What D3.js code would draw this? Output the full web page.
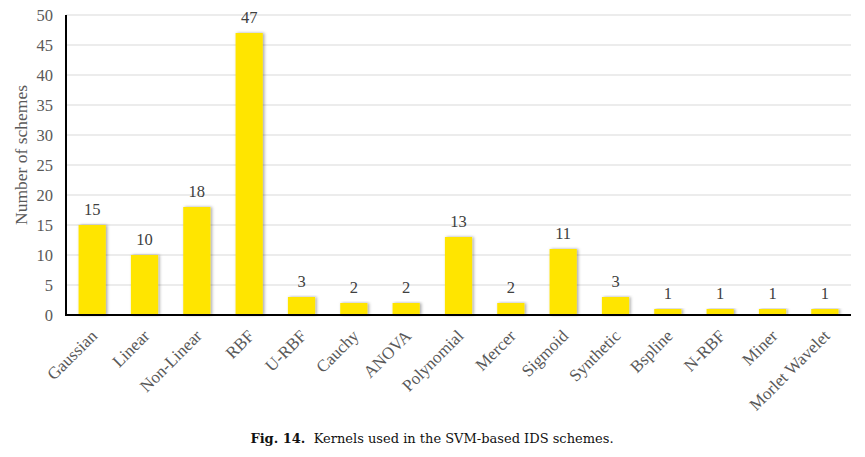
<!DOCTYPE html>
<html><head><meta charset="utf-8">
<script src="https://cdn.jsdelivr.net/npm/d3@7"></script>
<style>body{margin:0;background:#fff}</style>
</head><body>
<svg id="c" width="865" height="457"></svg>
<script>
const categories = ["Gaussian","Linear","Non-Linear","RBF","U-RBF","Cauchy","ANOVA","Polynomial","Mercer","Sigmoid","Synthetic","Bspline","N-RBF","Miner","Morlet Wavelet"];
const values = [15,10,18,47,3,2,2,13,2,11,3,1,1,1,1];
const yTicks = [0,5,10,15,20,25,30,35,40,45,50];

const svg = d3.select("#c");
const m = {l:66, r:14, t:15, b:142};
const W = 865, H = 457;
const x = d3.scaleBand().domain(categories).range([m.l, W - m.r]).paddingInner(0.48).paddingOuter(0.24);
const y = d3.scaleLinear().domain([0,50]).range([H - m.b, m.t]);
const serif = "'Liberation Serif', 'Times New Roman', serif";

const defs = svg.append("defs");
const f = defs.append("filter").attr("id","sh").attr("x","-30%").attr("y","-10%").attr("width","160%").attr("height","120%");
f.append("feDropShadow").attr("dx",1.5).attr("dy",0).attr("stdDeviation",1.5).attr("flood-color","#000").attr("flood-opacity",0.35);

// gridlines
svg.append("g").selectAll("line").data(yTicks.slice(1)).join("line")
  .attr("x1", m.l).attr("x2", W - m.r)
  .attr("y1", d => y(d)).attr("y2", d => y(d))
  .attr("stroke", "#d9d9d9").attr("stroke-width", 1.2);

// y axis
const ya = svg.append("g").attr("transform", `translate(${m.l},0)`)
  .call(d3.axisLeft(y).tickValues(yTicks).tickSize(0).tickPadding(13));
ya.select(".domain").remove();
ya.selectAll("text").attr("font-family", serif).attr("font-size", 16.5).attr("fill", "#595959");

// bars
svg.append("g").selectAll("rect").data(values).join("rect")
  .attr("x", (d,i) => x(categories[i]))
  .attr("y", d => y(d))
  .attr("width", x.bandwidth())
  .attr("height", d => y(0) - y(d))
  .attr("fill", "#ffe500")
  .attr("filter", "url(#sh)");

// value labels
svg.append("g").selectAll("text").data(values).join("text")
  .attr("x", (d,i) => x(categories[i]) + x.bandwidth()/2)
  .attr("y", d => y(d) - 10)
  .attr("text-anchor", "middle")
  .attr("font-family", serif).attr("font-size", 16.5).attr("fill", "#404040")
  .text(d => d);

// axis lines
svg.append("line").attr("x1", m.l).attr("x2", m.l).attr("y1", y(50)).attr("y2", y(0)+1)
  .attr("stroke", "#000").attr("stroke-width", 2);
svg.append("line").attr("x1", m.l-1).attr("x2", W - m.r).attr("y1", y(0)).attr("y2", y(0))
  .attr("stroke", "#000").attr("stroke-width", 2);

// x axis labels
const xa = svg.append("g").attr("transform", `translate(0,${y(0)})`)
  .call(d3.axisBottom(x).tickSize(0).tickPadding(0));
xa.select(".domain").remove();
xa.selectAll("text")
  .attr("font-family", serif).attr("font-size", 17).attr("fill", "#595959")
  .attr("text-anchor", "end")
  .attr("dy", null)
  .attr("transform", "translate(6,22) rotate(-45)");

// y title
svg.append("text")
  .attr("transform", `translate(27,155) rotate(-90)`)
  .attr("text-anchor", "middle")
  .attr("font-family", serif).attr("font-size", 17.5).attr("fill", "#595959")
  .text("Number of schemes");

// caption
const cap = svg.append("text").attr("x", 432).attr("y", 443).attr("text-anchor", "middle")
  .attr("font-family", "'DejaVu Serif', serif").attr("font-size", 13).attr("fill", "#111");
cap.append("tspan").attr("font-weight", "bold").text("Fig. 14.");
cap.append("tspan").text("  Kernels used in the SVM-based IDS schemes.").attr("xml:space","preserve");
</script>
</body></html>
